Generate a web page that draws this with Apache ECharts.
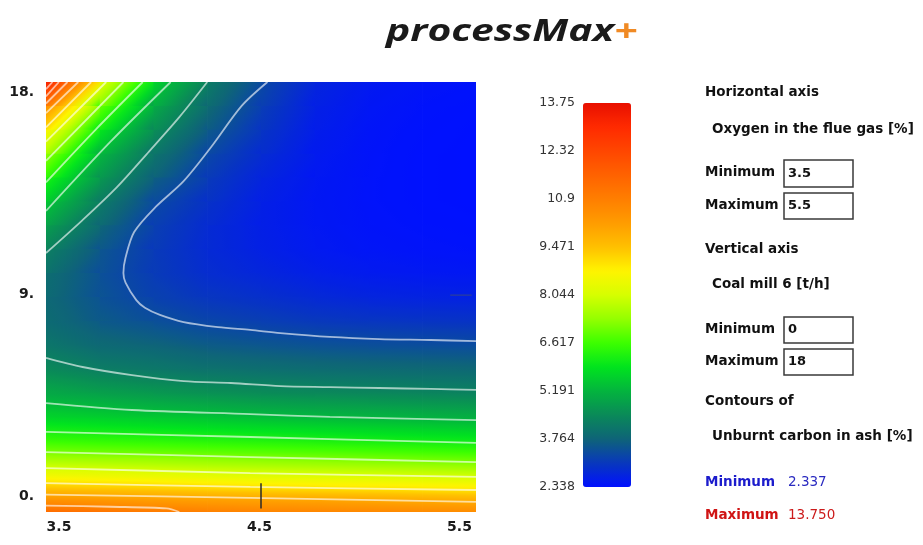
<!DOCTYPE html>
<html><head><meta charset="utf-8">
<script src="https://cdn.jsdelivr.net/npm/echarts@6/dist/echarts.min.js"></script>
<style>html,body{margin:0;padding:0;background:#fff}#c{width:923px;height:545px}</style>
</head><body><div id="c"></div>
<script>
// ---- grid of the surface (Unburnt carbon in ash [%]) ----
const xValues = [3.5, 3.75, 4.0, 4.25, 4.5, 4.75, 5.0, 5.25, 5.5];
const yValues = [0, 0.5, 1, 1.5, 2, 2.5, 3, 4, 5, 6, 7, 8, 9, 10, 11, 12, 13, 14, 15, 16, 17, 18];
const colX350 = [11.40,10.40,9.41,8.55,7.81,7.10,6.54,5.63,4.97,4.47,4.08,3.90,3.86,3.98,4.33,4.87,5.51,6.35,7.45,8.83,10.66,13.75];
const colX375 = [11.15,10.28,9.33,8.48,7.73,7.03,6.47,5.55,4.84,4.22,3.85,3.60,3.48,3.45,3.55,3.85,4.26,4.74,5.25,6.04,7.10,8.45];
const colX400 = [10.96,10.18,9.25,8.40,7.66,6.98,6.41,5.47,4.70,4.11,3.77,3.42,3.20,3.10,3.10,3.18,3.33,3.74,4.11,4.56,5.06,5.77];
const colX425 = [10.85,10.10,9.15,8.31,7.57,6.91,6.34,5.38,4.58,4.01,3.61,3.26,3.00,2.85,2.80,2.82,2.95,3.10,3.30,3.62,3.93,4.24];
const colX450 = [10.75,10.05,9.07,8.24,7.50,6.85,6.29,5.28,4.49,3.95,3.53,3.15,2.90,2.72,2.63,2.60,2.62,2.70,2.85,3.00,3.15,3.35];
const colX475 = [10.70,10.00,9.01,8.17,7.44,6.79,6.22,5.22,4.43,3.90,3.46,3.05,2.78,2.60,2.50,2.47,2.46,2.48,2.52,2.57,2.63,2.70];
const colX500 = [10.65,9.95,8.96,8.12,7.37,6.73,6.15,5.17,4.39,3.87,3.41,3.00,2.70,2.52,2.43,2.40,2.39,2.39,2.40,2.42,2.45,2.50];
const colX525 = [10.60,9.87,8.91,8.06,7.30,6.67,6.09,5.12,4.35,3.85,3.38,2.97,2.66,2.48,2.40,2.37,2.35,2.35,2.35,2.36,2.38,2.42];
const colX550 = [10.55,9.80,8.85,7.99,7.23,6.60,6.03,5.08,4.32,3.83,3.36,2.95,2.64,2.46,2.38,2.35,2.34,2.34,2.34,2.34,2.35,2.38];
const columns = [colX350, colX375, colX400, colX425, colX450, colX475, colX500, colX525, colX550];

// ---- contour lines ([x, y] in data units) ----
const contour0 = [[4.53,18],[4.41,17.0],[4.27,15.3],[4.14,13.85],[4.01,12.77],[3.91,11.72],[3.87,10.65],[3.86,10.0],[3.87,9.6],[3.92,8.87],[3.96,8.55],[4.03,8.25],[4.14,7.95],[4.30,7.74],[4.45,7.62],[4.59,7.49],[4.82,7.33],[5.05,7.24],[5.29,7.20],[5.5,7.15]];
const contour1a = [[4.25,18],[4.12,16.53],[3.98,15.1],[3.83,13.6],[3.67,12.22],[3.5,10.84]];
const contour1b = [[3.5,6.45],[3.67,6.07],[3.90,5.73],[4.14,5.48],[4.36,5.40],[4.59,5.27],[4.82,5.23],[5.05,5.19],[5.29,5.15],[5.5,5.11]];
const contour2b = [[3.5,4.56],[3.9,4.27],[4.45,4.10],[4.82,3.98],[5.5,3.85]];
const contour3b = [[3.5,3.35],[4.45,3.14],[5.5,2.89]];
const contour4b = [[3.5,2.51],[4.45,2.30],[5.5,2.09]];
const contour5b = [[3.5,1.84],[4.45,1.63],[5.5,1.47]];
const contour6b = [[3.5,1.21],[4.45,1.05],[5.5,0.92]];
const contour7b = [[3.5,0.73],[4.45,0.59],[5.5,0.42]];
const contour8b = [[3.5,0.27],[3.8,0.22],[4.06,0.15],[4.12,0.0]];
const contour2a = [[3.5,12.6],[3.8,15.5],[4.08,18]];
const contour3a = [[3.5,13.8],[3.73,16.0],[3.95,18]];
const contour4a = [[3.5,14.7],[3.86,18]];
const contour5a = [[3.5,15.5],[3.78,18]];
const contour6a = [[3.5,16.1],[3.71,18]];
const contour7a = [[3.5,16.7],[3.65,18]];
const contour8a = [[3.5,17.1],[3.60,18]];
const contour9a = [[3.5,17.4],[3.56,18]];
const contour10a = [[3.5,17.7],[3.53,18]];
const contourLines = [contour0, contour1a, contour1b, contour2b, contour3b, contour4b, contour5b, contour6b, contour7b, contour8b,
  contour2a, contour3a, contour4a, contour5a, contour6a, contour7a, contour8a, contour9a, contour10a];
const cursorMark = [[4.5,0.15],[4.5,1.2]];
const rightMark = [[5.38,9.08],[5.48,9.08]];

// ---- scale / ticks ----
const xTickLabels = [3.5, 4.5, 5.5];
const yTickLabels = [0, 9, 18];
const colorbarLabels = ['2.338','3.764','5.191','6.617','8.044','9.471','10.9','12.32','13.75'];
const valueMin = 2.338, valueMax = 13.75;
const palette = ['#0010ff','#0838bc','#0e6478','#0a8a58','#03b43e','#00e41e','#3cff00','#94ff00','#d6ff00',
  '#fff400','#ffc000','#ff9c00','#ff7e00','#ff6200','#ff4600','#ff2a00','#e81000'];

function colorOf(v) {
  let t = (v - valueMin) / (valueMax - valueMin);
  t = Math.max(0, Math.min(1, t));
  return echarts.color.lerp(t, palette);
}

const cells = [];
for (let i = 0; i < xValues.length - 1; i++) {
  for (let j = 0; j < yValues.length - 1; j++) {
    cells.push([xValues[i], xValues[i+1], yValues[j], yValues[j+1],
      columns[i][j], columns[i+1][j], columns[i][j+1], columns[i+1][j+1]]);
  }
}

function renderCell(params, api) {
  const x0 = api.value(0), x1 = api.value(1), y0 = api.value(2), y1 = api.value(3);
  const a = api.value(4), b = api.value(5), c = api.value(6), d = api.value(7);
  const p0 = api.coord([x0, y0]), p1 = api.coord([x1, y1]);
  const left = p0[0], right = p1[0], bottom = p0[1], top = p1[1];
  const w = right - left, h = bottom - top;
  const vc = (a + b + c + d) / 4;
  const du = ((b - a) + (d - c)) / 2;
  const dv = ((c - a) + (d - b)) / 2;
  const gx = du / w, gy = -dv / h;
  const g = Math.hypot(gx, gy);
  const cx = left + w / 2, cy = top + h / 2;
  let fill;
  if (g < 1e-9) {
    fill = colorOf(vc);
  } else {
    const ux = gx / g, uy = gy / g;
    const half = (Math.abs(gx) * w / 2 + Math.abs(gy) * h / 2) / g;
    const vs = vc - g * half, ve = vc + g * half;
    const stops = [];
    for (let k = 0; k <= 8; k++) {
      const t = k / 8;
      stops.push({offset: t, color: colorOf(vs + (ve - vs) * t)});
    }
    fill = new echarts.graphic.LinearGradient(cx - ux * half, cy - uy * half, cx + ux * half, cy + uy * half, stops, true);
  }
  const ex = x1 < 5.5 ? 0.7 : 0, ey = y1 < 18 ? 0.7 : 0;
  return {type: 'rect', shape: {x: left, y: top - ey, width: w + ex, height: h + ey}, style: {fill: fill}};
}

const lineStyleC = {color: 'rgba(255,255,255,0.62)', width: 1.8};
const contourSeries = contourLines.map(pts => ({
  type: 'line', data: pts, xAxisIndex: 0, yAxisIndex: 0, showSymbol: false, symbol: 'none',
  smooth: 0.3, silent: true, lineStyle: lineStyleC, z: 3, animation: false
}));

const axFont = {fontFamily: 'DejaVu Sans', fontWeight: 'bold', fontSize: 14, color: '#1a1a1a'};
const panelFont = 'bold 13.5px "DejaVu Sans"';

function txt(x, y, s, opt) {
  return Object.assign({type: 'text', x: x, y: y, silent: true,
    style: Object.assign({text: s, font: panelFont, fill: '#111', textVerticalAlign: 'middle', verticalAlign: 'middle'}, opt || {})});
}
function box(x, y, w, h) {
  return {type: 'rect', shape: {x: x, y: y, width: w, height: h}, silent: true,
    style: {fill: '#fff', stroke: '#3a3a3a', lineWidth: 1.5}};
}

const chart = echarts.init(document.getElementById('c'), null, {renderer: 'canvas'});
chart.setOption({
  animation: false,
  backgroundColor: '#fff',
  grid: [
    {left: 46, top: 82, width: 430, height: 430},
    {left: 583, top: 103, width: 48, height: 384}
  ],
  xAxis: [
    {type: 'value', gridIndex: 0, min: 3.5, max: 5.5, interval: 0.5,
      axisLine: {show: false}, axisTick: {show: false}, splitLine: {show: false},
      axisLabel: {margin: 8, showMinLabel: true, showMaxLabel: true,
        formatter: v => {
          if (!xTickLabels.includes(v)) return '';
          if (v === xTickLabels[0]) return '{lo|' + v.toFixed(1) + '}';
          if (v === xTickLabels[2]) return '{hi|' + v.toFixed(1) + '}';
          return '{mid|' + v.toFixed(1) + '}';
        },
        rich: {
          lo: Object.assign({padding: [0, 0, 0, 26]}, axFont),
          mid: Object.assign({padding: [0, 3, 0, 0]}, axFont),
          hi: Object.assign({padding: [0, 33, 0, 0]}, axFont)
        }}},
    {type: 'value', gridIndex: 1, show: false, min: 0, max: 1}
  ],
  yAxis: [
    {type: 'value', gridIndex: 0, min: 0, max: 18, interval: 9,
      axisLine: {show: false}, axisTick: {show: false}, splitLine: {show: false},
      axisLabel: {margin: 12, showMinLabel: true, showMaxLabel: true,
        formatter: v => {
          if (v === yTickLabels[0]) return '{lo|' + v + '.}';
          if (v === yTickLabels[2]) return '{hi|' + v + '.}';
          return '{mid|' + v + '.}';
        },
        rich: {
          lo: Object.assign({padding: [0, 0, 32, 0]}, axFont),
          mid: Object.assign({padding: [0, 0, 6, 0]}, axFont),
          hi: Object.assign({padding: [20, 0, 0, 0]}, axFont)
        }}},
    {type: 'category', gridIndex: 1, data: colorbarLabels, boundaryGap: false,
      axisLine: {show: false}, axisTick: {show: false}, splitLine: {show: false},
      axisLabel: {interval: 0, margin: 8, fontFamily: 'DejaVu Sans', fontSize: 12.5, color: '#333'}}
  ],
  visualMap: {
    type: 'continuous', seriesIndex: 0, dimension: 4, min: valueMin, max: valueMax,
    inRange: {color: palette}, calculable: false, realtime: false, hoverLink: false,
    orient: 'vertical', left: 583, top: 103, itemWidth: 48, itemHeight: 384,
    padding: 0, text: null, showLabel: false
  },
  series: [
    {type: 'custom', xAxisIndex: 0, yAxisIndex: 0, data: cells, renderItem: renderCell,
      encode: {x: [0, 1], y: [2, 3]}, silent: true, z: 1, clip: true}
  ].concat(contourSeries).concat([
    {type: 'line', data: cursorMark, xAxisIndex: 0, yAxisIndex: 0, showSymbol: false, symbol: 'none',
      silent: true, lineStyle: {color: '#2a2a2a', width: 1.5}, z: 4},
    {type: 'line', data: rightMark, xAxisIndex: 0, yAxisIndex: 0, showSymbol: false, symbol: 'none',
      silent: true, lineStyle: {color: 'rgba(70,80,110,0.6)', width: 1.2}, z: 4},
    {type: 'line', data: [], xAxisIndex: 1, yAxisIndex: 1, showSymbol: false}
  ]),
  graphic: [
    {type: 'text', x: 386, y: 32, scaleX: 1.36, silent: true,
      style: {text: '{a|processMax}{b|+}', textVerticalAlign: 'middle', verticalAlign: 'middle',
        rich: {a: {font: 'italic bold 30px "Open Sans"', fill: '#1a1a1a'},
               b: {font: 'italic bold 30px "Open Sans"', fill: '#f08a24'}}}},
    txt(705, 92, 'Horizontal axis'),
    txt(712, 129, 'Oxygen in the flue gas [%]'),
    txt(705, 172, 'Minimum'),
    box(784, 160, 69, 27), txt(788, 174, '3.5', {font: 'bold 13px "DejaVu Sans"'}),
    txt(705, 205, 'Maximum'),
    box(784, 193, 69, 26), txt(788, 206, '5.5', {font: 'bold 13px "DejaVu Sans"'}),
    txt(705, 249, 'Vertical axis'),
    txt(712, 284, 'Coal mill 6 [t/h]'),
    txt(705, 329, 'Minimum'),
    box(784, 317, 69, 26), txt(788, 330, '0', {font: 'bold 13px "DejaVu Sans"'}),
    txt(705, 361, 'Maximum'),
    box(784, 349, 69, 26), txt(788, 362, '18', {font: 'bold 13px "DejaVu Sans"'}),
    txt(705, 401, 'Contours of'),
    txt(712, 436, 'Unburnt carbon in ash [%]'),
    txt(705, 482, 'Minimum', {fill: '#1c1ccc'}),
    txt(788, 482, '2.337', {fill: '#2a2ac0', font: '13.5px "DejaVu Sans"'}),
    txt(705, 515, 'Maximum', {fill: '#d01414'}),
    txt(788, 515, '13.750', {fill: '#cc1a1a', font: '13.5px "DejaVu Sans"'})
  ]
});
</script></body></html>
